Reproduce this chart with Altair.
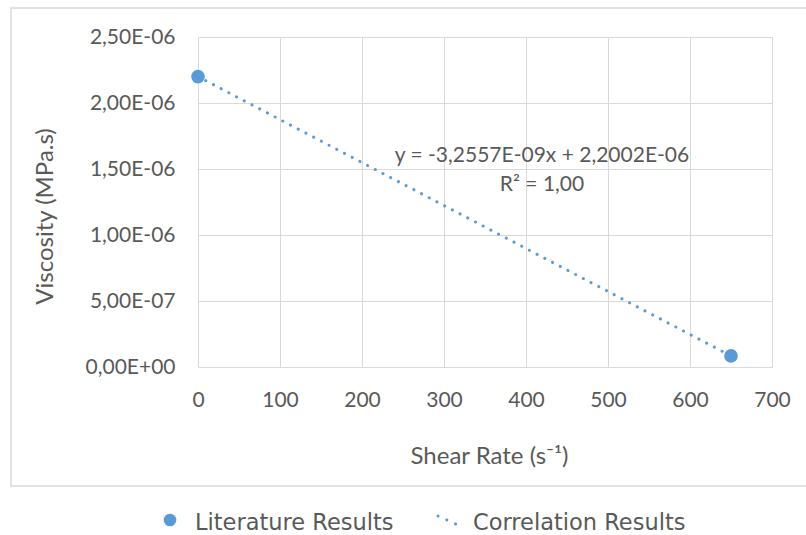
import altair as alt
import pandas as pd

# ---- data ----
lit_x = [0, 650]
lit_y = [2.20e-06, 8.4e-08]
trend_x = [0, 650]
trend_y = [2.2002e-06, 8.40e-08]
x_ticks = [0, 100, 200, 300, 400, 500, 600, 700]
y_ticks = [0, 5e-07, 1e-06, 1.5e-06, 2e-06, 2.5e-06]
y_tick_labels = ["0,00E+00", "5,00E-07", "1,00E-06", "1,50E-06", "2,00E-06", "2,50E-06"]
equation_text = ["y = -3,2557E-09x + 2,2002E-06", "R² = 1,00"]
legend_labels = ["Literature Results", "Correlation Results"]

W, H = 574, 330
PL, PT = 198, 37
BLUE = "#5B9BD5"
GREY = "#595959"
FONT = "Lato"

lit = pd.DataFrame({"x": lit_x, "y": lit_y})
trend = pd.DataFrame({"x": trend_x, "y": trend_y})
one = pd.DataFrame({"k": [0]})

label_expr = "[" + ",".join("'%s'" % s for s in y_tick_labels) + "][round(datum.value*2000000)]"

xs = alt.Scale(domain=[0, 700], nice=False, zero=False)
ys = alt.Scale(domain=[0, 2.5e-06], nice=False, zero=False)

xaxis = alt.Axis(values=x_ticks, title="Shear Rate (s⁻¹)", grid=True, gridColor="#d9d9d9",
                 domain=False, ticks=False, labelFlush=False, labelFont=FONT, labelFontSize=21,
                 labelColor=GREY, labelPadding=22, titleFont=FONT, titleFontSize=24,
                 titleColor=GREY, titleFontWeight="normal", titleX=291, titleY=77)
yaxis = alt.Axis(values=y_ticks, labelExpr=label_expr, title="Viscosity (MPa.s)", grid=True,
                 gridColor="#d9d9d9", domain=False, ticks=False, labelFlush=False,
                 labelFont=FONT, labelFontSize=21, labelColor=GREY, labelPadding=23,
                 titleFont=FONT, titleFontSize=24, titleColor=GREY, titleFontWeight="normal",
                 titleX=-141, titleY=179)

border = alt.Chart(one).mark_rect(fill=None, stroke="#d9d9d9", strokeWidth=1.5).encode(
    x=alt.value(11 - PL), x2=alt.value(820 - PL), y=alt.value(8 - PT), y2=alt.value(486 - PT))

base_axes = alt.Chart(trend).mark_line(opacity=0).encode(
    x=alt.X("x:Q", scale=xs, axis=xaxis), y=alt.Y("y:Q", scale=ys, axis=yaxis))

trend_line = alt.Chart(trend).mark_line(color=BLUE, strokeWidth=3, strokeDash=[0.1, 8.6],
                                        strokeCap="round").encode(
    x=alt.X("x:Q", scale=xs), y=alt.Y("y:Q", scale=ys))

points = alt.Chart(lit).mark_point(filled=True, color=BLUE, size=185, opacity=1).encode(
    x=alt.X("x:Q", scale=xs), y=alt.Y("y:Q", scale=ys))

eq1 = alt.Chart(one).mark_text(text=equation_text[0], font=FONT, fontSize=21, color=GREY,
                               align="center", baseline="middle").encode(
    x=alt.value(542 - PL), y=alt.value(156 - PT))
eq2 = alt.Chart(one).mark_text(text=equation_text[1], font=FONT, fontSize=21, color=GREY,
                               align="center", baseline="middle").encode(
    x=alt.value(542 - PL), y=alt.value(185 - PT))

LEG_FONT = "DejaVu Sans"
leg_pt = alt.Chart(one).mark_point(filled=True, color=BLUE, size=160, opacity=1).encode(
    x=alt.value(170 - PL), y=alt.value(520 - PT))
leg_t1 = alt.Chart(one).mark_text(text=legend_labels[0], font=LEG_FONT, fontSize=22.5,
                                  color=GREY, align="left", baseline="middle").encode(
    x=alt.value(195 - PL), y=alt.value(523 - PT))
leg_ln = alt.Chart(one).mark_rule(color=BLUE, strokeWidth=3, strokeDash=[0.1, 9.5],
                                  strokeCap="round").encode(
    x=alt.value(438 - PL), x2=alt.value(458 - PL), y=alt.value(516 - PT), y2=alt.value(525 - PT))
leg_t2 = alt.Chart(one).mark_text(text=legend_labels[1], font=LEG_FONT, fontSize=22.5,
                                  color=GREY, align="left", baseline="middle").encode(
    x=alt.value(473 - PL), y=alt.value(523 - PT))

chart = alt.layer(border, base_axes, trend_line, points, eq1, eq2, leg_pt, leg_t1, leg_ln, leg_t2
).properties(
    width=W, height=H,
    autosize=alt.AutoSizeParams(type="none"),
    padding={"left": PL, "top": PT, "right": 806 - PL - W, "bottom": 535 - PT - H},
    background="white",
).configure_view(stroke=None)

chart.save("out.html", embed_options={"renderer": "svg", "actions": False})
